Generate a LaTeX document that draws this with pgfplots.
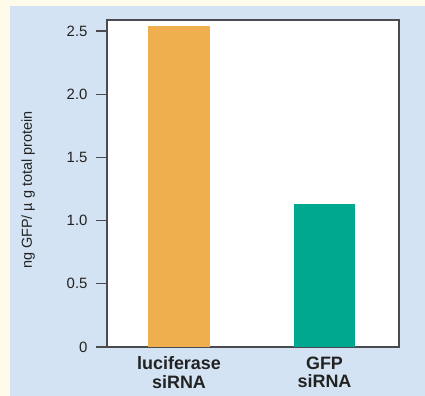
\documentclass[border=0pt]{standalone}
\usepackage{pgfplots}
\pgfplotsset{compat=1.18}
\usepackage{fontspec}
\setmainfont{Liberation Sans}
\definecolor{cream}{HTML}{FFFBEA}
\definecolor{panel}{HTML}{D4E3F3}
\definecolor{orangebar}{HTML}{EFAF4F}
\definecolor{greenbar}{HTML}{00A88F}
\definecolor{axgray}{HTML}{4A4A50}
\definecolor{txt}{HTML}{222222}
\begin{document}
\begin{tikzpicture}[x=1bp,y=1bp]
\fill[cream] (0,0) rectangle (425,396);
\fill[panel] (10,0) rectangle (425,390);
\path[use as bounding box] (0,0) rectangle (425,396);
\begin{axis}[
  at={(107bp,49bp)}, anchor=south west,
  scale only axis, width=292bp, height=327bp,
  xmin=-0.495, xmax=1.512, ymin=0, ymax=2.587,
  axis background/.style={fill=white},
  axis line style={axgray, line width=1.1bp},
  ytick={0,0.5,1,1.5,2,2.5},
  yticklabels={0,0.5,1.0,1.5,2.0,2.5},
  ytick pos=left, ytick align=outside,
  major tick length=11bp,
  ytick style={axgray, line width=1.1bp},
  yticklabel style={font=\fontsize{15}{17}\selectfont, text=txt, xshift=-5bp},
  /pgf/number format/assume math mode=true,
  xtick={0,1},
  xticklabels={luciferase\\siRNA, GFP\\siRNA},
  xtick style={draw=none},
  xticklabel style={font=\fontsize{18}{19}\selectfont\bfseries, text=txt, align=center, yshift=-6bp},
  ylabel={ng GFP/ µ g total protein},
  every axis y label/.style={at={(axis description cs:-0.27,0.48)}, rotate=90, anchor=center, font=\fontsize{14.5}{16}\selectfont, text=txt},
]
\addplot[ybar, bar shift=0pt, bar width=0.42, fill=orangebar, draw=none] coordinates {(0,2.54)};
\addplot[ybar, bar shift=0pt, bar width=0.42, fill=greenbar, draw=none] coordinates {(1,1.13)};
\end{axis}
\end{tikzpicture}
\end{document}
